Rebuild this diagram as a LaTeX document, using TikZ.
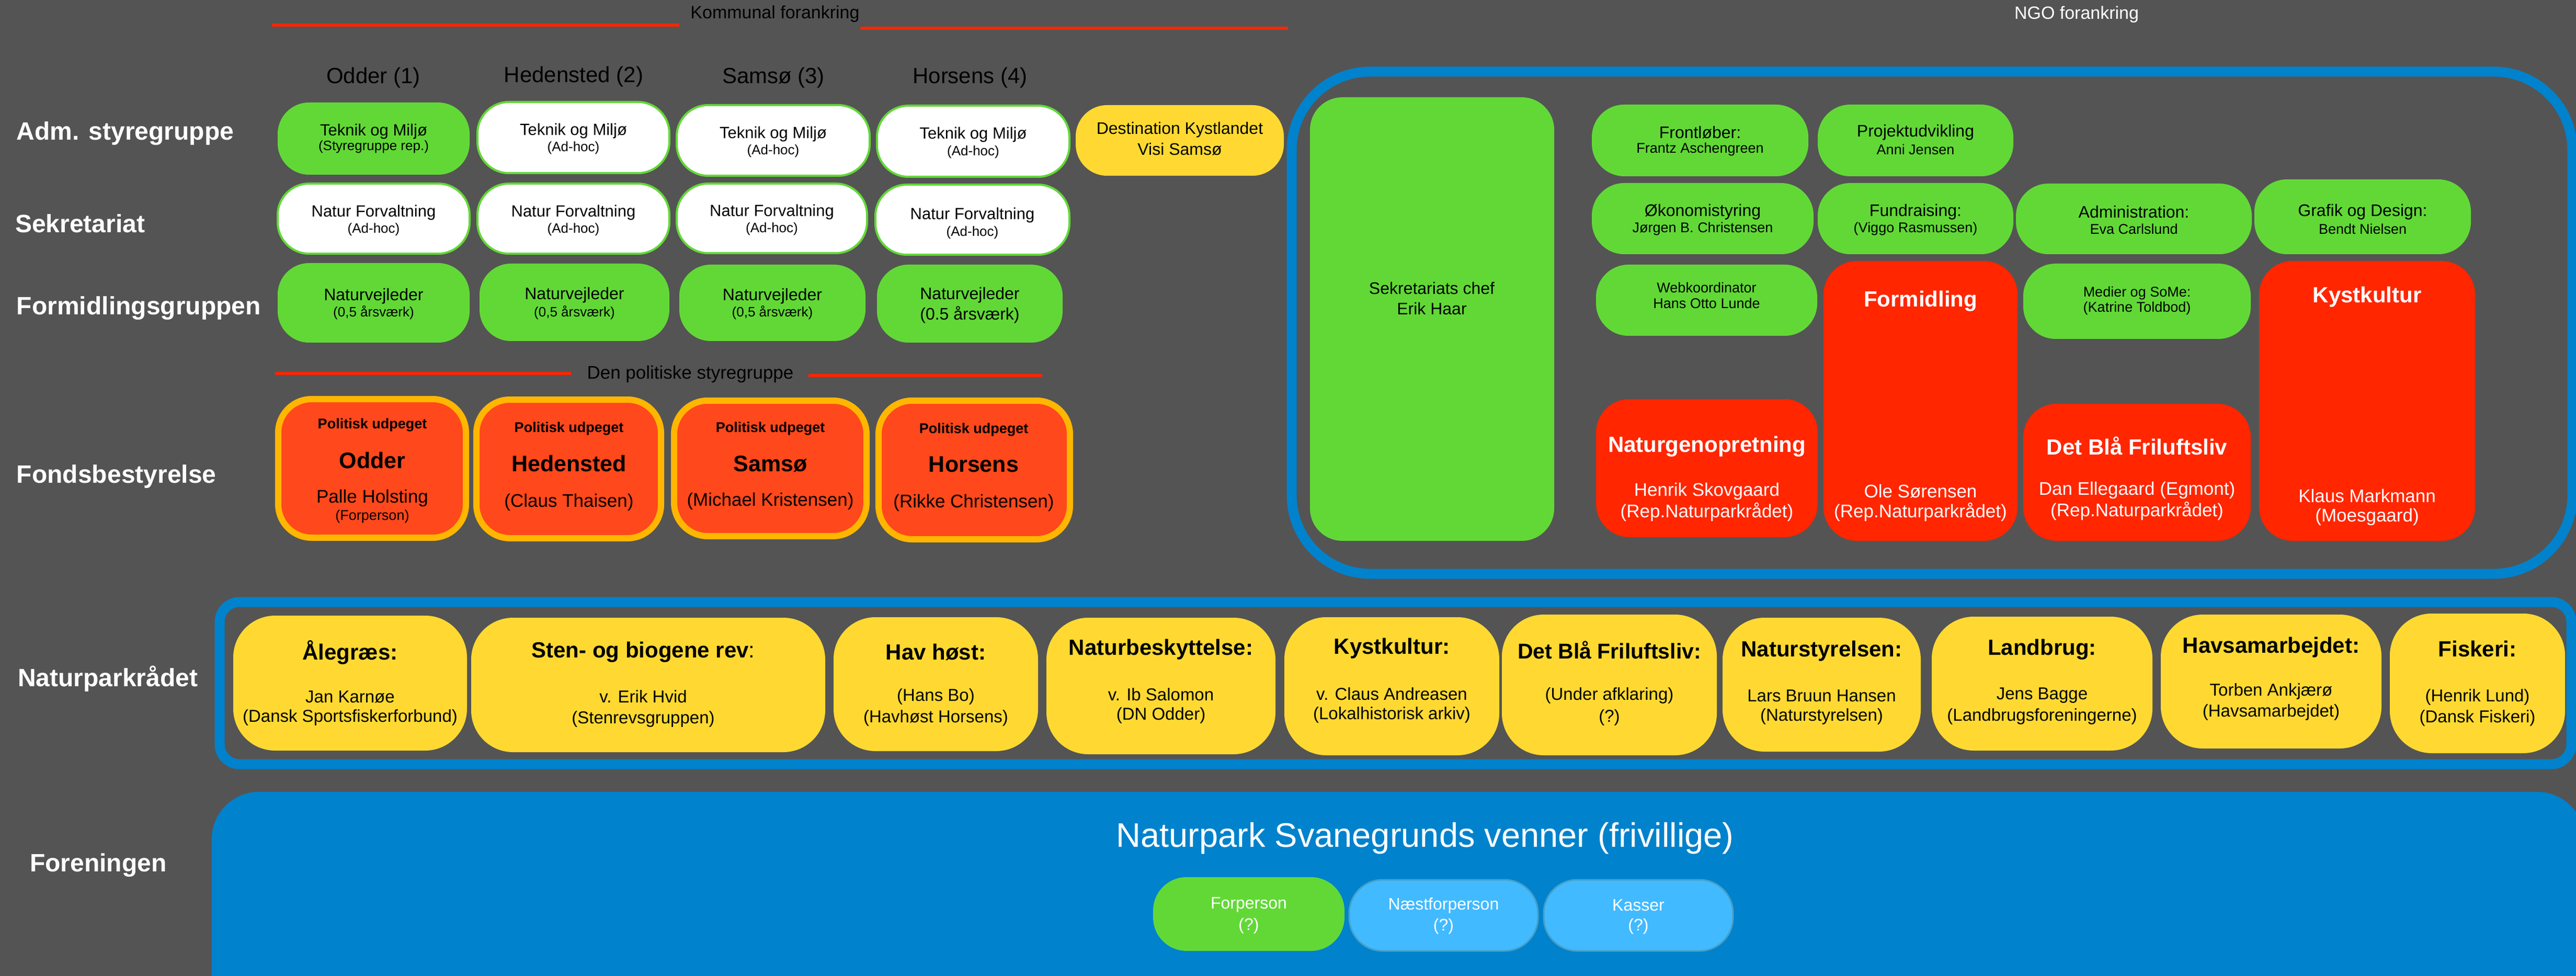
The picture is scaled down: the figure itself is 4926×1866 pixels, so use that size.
\documentclass[tikz,border=0pt]{standalone}
\usepackage{fontspec}
\setmainfont{Liberation Sans}
\definecolor{bg}{RGB}{84,84,84}
\definecolor{cgreen}{RGB}{98,216,55}
\definecolor{cyellow}{RGB}{255,217,50}
\definecolor{cred}{RGB}{255,38,0}
\definecolor{corange}{RGB}{255,72,27}
\definecolor{cgold}{RGB}{255,182,0}
\definecolor{cblue}{RGB}{0,130,204}
\definecolor{clblue}{RGB}{66,186,255}
\definecolor{clbord}{RGB}{70,160,200}
\newcommand\Bx[6]{\node[#2,minimum width={(#5-#3)*0.5pt},minimum height={(#6-#4)*0.5pt}] (#1) at ({(#3+#5)/2},{(#4+#6)/2}) {};}
\newcounter{tcnt}
\newcommand\Tx[5][]{\stepcounter{tcnt}\node[txt,#1] (t\thetcnt) at (#2,#3) {\fontsize{#4}{#4}\selectfont #5};}
\begin{document}
\begin{tikzpicture}[x=0.5pt,y=-0.5pt,
  box/.style={rectangle,inner sep=0pt,outer sep=0pt},
  gbox/.style={box,fill=cgreen,rounded corners=30pt},
  wbox/.style={box,fill=white,draw=cgreen,line width=2pt,rounded corners=30pt},
  dbox/.style={box,fill=cyellow,rounded corners=30pt},
  ybox/.style={box,fill=cyellow,rounded corners=40pt},
  ngbox/.style={box,fill=cgreen,rounded corners=31pt},
  rbox/.style={box,fill=cred,rounded corners=32pt},
  fbox/.style={box,fill=corange,draw=cgold,line width=6pt,rounded corners=32pt},
  lbox/.style={box,fill=clblue,draw=clbord,line width=1.5pt,rounded corners=32pt},
  fgbox/.style={box,fill=cgreen,rounded corners=32pt},
  bigframe/.style={box,draw=cblue,line width=9.5pt,rounded corners=75pt},
  npframe/.style={box,draw=cblue,line width=9.5pt,rounded corners=19pt},
  forbox/.style={box,fill=cblue,rounded corners=45pt},
  redline/.style={draw=cred,line width=3pt},
  txt/.style={inner sep=0pt,outer sep=0pt,anchor=center},
  lab/.style={anchor=west,text=white},
  wt/.style={text=white}]
\useasboundingbox (0,0) rectangle (4926,1866);
\fill[bg] (0,0) rectangle (4926,1866);
\clip (0,0) rectangle (4926,1866);

% ---- top headings
\coordinate (kl1) at (520,48); \coordinate (kl2) at (1299,48);
\coordinate (kr1) at (1645,54); \coordinate (kr2) at (2463,54);
\draw[redline] (kl1) -- (kl2);
\draw[redline] (kr1) -- (kr2);
\Tx{1482}{27}{17}{Kommunal forankring}
\Tx[wt]{3971}{28}{17}{NGO forankring}

\Tx{714}{149}{21}{Odder (1)}
\Tx{1097}{147}{21}{Hedensted (2)}
\Tx{1479}{149}{21}{Samsø (3)}
\Tx{1855}{149}{21}{Horsens (4)}

% ---- row labels
\Tx[lab]{32}{255}{24}{\bfseries Adm. styregruppe}
\Tx[lab]{29}{427}{24}{\bfseries Sekretariat}
\Tx[lab]{32}{589}{24}{\bfseries Formidlingsgruppen}
\Tx[lab]{32}{911}{24}{\bfseries Fondsbestyrelse}
\Tx[lab]{34}{1298}{24}{\bfseries Naturparkrådet}
\Tx[lab]{57}{1654}{24}{\bfseries Foreningen}

% ---- Adm. styregruppe
\Bx{A1}{gbox}{531}{196}{898}{334}
\Bx{A2}{wbox}{913}{195}{1280}{331}
\Bx{A3}{wbox}{1294}{201}{1663}{336}
\Bx{A4}{wbox}{1677}{202}{2045}{338}
\Bx{A5}{dbox}{2057}{201}{2455}{336}
\Tx{714.5}{251}{15.5}{Teknik og Miljø}
\Tx{714.5}{281}{13}{(Styregruppe rep.)}
\Tx{1096.5}{250}{15.5}{Teknik og Miljø}
\Tx{1096.5}{283}{13}{(Ad-hoc)}
\Tx{1478.5}{256}{15.5}{Teknik og Miljø}
\Tx{1478.5}{289}{13}{(Ad-hoc)}
\Tx{1861}{257}{15.5}{Teknik og Miljø}
\Tx{1861}{291}{13}{(Ad-hoc)}
\Tx{2256}{248}{16}{Destination Kystlandet}
\Tx{2256}{285}{16}{Visi Samsø}

% ---- Sekretariat
\Bx{S1}{wbox}{531}{351}{898}{485}
\Bx{S2}{wbox}{913}{351}{1280}{485}
\Bx{S3}{wbox}{1294}{351}{1658}{484}
\Bx{S4}{wbox}{1674}{353}{2045}{487}
\Tx{714.5}{406}{15.5}{Natur Forvaltning}
\Tx{714.5}{439}{13}{(Ad-hoc)}
\Tx{1096.5}{406}{15.5}{Natur Forvaltning}
\Tx{1096.5}{439}{13}{(Ad-hoc)}
\Tx{1476}{405}{15.5}{Natur Forvaltning}
\Tx{1476}{438}{13}{(Ad-hoc)}
\Tx{1859.5}{411}{15.5}{Natur Forvaltning}
\Tx{1859.5}{445}{13}{(Ad-hoc)}

% ---- Formidlingsgruppen
\Bx{F1}{gbox}{531}{503}{898}{655}
\Bx{F2}{gbox}{917}{504}{1280}{652}
\Bx{F3}{gbox}{1299}{506}{1655}{652}
\Bx{F4}{gbox}{1677}{506}{2032}{655}
\Tx{714.5}{566}{16}{Naturvejleder}
\Tx{714.5}{598}{13}{(0,5 årsværk)}
\Tx{1098.5}{564}{16}{Naturvejleder}
\Tx{1098.5}{598}{13}{(0,5 årsværk)}
\Tx{1477}{566}{16}{Naturvejleder}
\Tx{1477}{598}{13}{(0,5 årsværk)}
\Tx{1854.5}{564}{16}{Naturvejleder}
\Tx{1854.5}{602}{16}{(0.5 årsværk)}

% ---- Den politiske styregruppe
\coordinate (pl1) at (526,714); \coordinate (pl2) at (1092,714);
\coordinate (pr1) at (1546,718); \coordinate (pr2) at (1993,718);
\draw[redline] (pl1) -- (pl2);
\draw[redline] (pr1) -- (pr2);
\Tx{1320}{715}{17.5}{Den politiske styregruppe}

% ---- Fondsbestyrelse
\Bx{B1}{fbox}{532}{763}{891}{1028}
\Bx{B2}{fbox}{911}{764}{1264}{1029}
\Bx{B3}{fbox}{1289}{766}{1657}{1025}
\Bx{B4}{fbox}{1680}{766}{2046}{1031}
\Tx{712}{813}{13.5}{\bfseries Politisk udpeget}
\Tx{712}{880}{21.5}{\bfseries Odder}
\Tx{712}{952}{17.5}{Palle Holsting}
\Tx{712}{988}{13.5}{(Forperson)}
\Tx{1088}{820}{13.5}{\bfseries Politisk udpeget}
\Tx{1088}{886}{21.5}{\bfseries Hedensted}
\Tx{1088}{960}{17.5}{(Claus Thaisen)}
\Tx{1473}{820}{13.5}{\bfseries Politisk udpeget}
\Tx{1473}{887}{21.5}{\bfseries Samsø}
\Tx{1473}{958}{17.5}{(Michael Kristensen)}
\Tx{1862}{822}{13.5}{\bfseries Politisk udpeget}
\Tx{1862}{888}{21.5}{\bfseries Horsens}
\Tx{1862}{961}{17.5}{(Rikke Christensen)}

% ---- NGO frame
\Bx{NGO}{bigframe}{2470}{137}{4919}{1097}
\Bx{SC}{ngbox}{2505}{186}{2972}{1034}
\Tx{2738}{551}{16}{Sekretariats chef}
\Tx{2738}{590}{16}{Erik Haar}

\Bx{G1}{ngbox}{3044}{200}{3458}{337}
\Bx{G2}{ngbox}{3476}{200}{3850}{337}
\Bx{G3}{ngbox}{3044}{350}{3468}{486}
\Bx{G4}{ngbox}{3476}{350}{3850}{486}
\Bx{G5}{ngbox}{3855}{351}{4306}{486}
\Bx{G6}{ngbox}{4311}{343}{4725}{486}
\Bx{G7}{ngbox}{3052}{506}{3475}{642}
\Bx{G8}{ngbox}{3869}{504}{4304}{648}
\Tx{3251}{253}{16}{Frontløber:}
\Tx{3251}{286}{13.5}{Frantz Aschengreen}
\Tx{3663}{253}{16}{Projektudvikling}
\Tx{3663}{286}{13.5}{Anni Jensen}
\Tx{3256}{405}{16}{Økonomistyring}
\Tx{3256}{438}{13.5}{Jørgen B. Christensen}
\Tx{3663}{405}{16}{Fundraising:}
\Tx{3663}{438}{13.5}{(Viggo Rasmussen)}
\Tx{4080.5}{405}{16}{Administration:}
\Tx{4080.5}{438}{13.5}{Eva Carlslund}
\Tx{4518}{405}{16}{Grafik og Design:}
\Tx{4518}{438}{13.5}{Bendt Nielsen}
\Tx{3263.5}{550}{13.5}{Webkoordinator}
\Tx{3263.5}{580}{13.5}{Hans Otto Lunde}
\Tx{4086.5}{561}{13.5}{Medier og SoMe:}
\Tx{4086.5}{590}{13.5}{(Katrine Toldbod)}

\Bx{R1}{rbox}{3487}{499}{3858}{1034}
\Bx{R2}{rbox}{4320}{499}{4733}{1034}
\Bx{R3}{rbox}{3052}{763}{3476}{1027}
\Bx{R4}{rbox}{3869}{772}{4304}{1034}
\Tx[wt]{3672.5}{576}{21}{\bfseries Formidling}
\Tx[wt]{3672.5}{939}{17.5}{Ole Sørensen}
\Tx[wt]{3672.5}{979}{17.5}{(Rep.Naturparkrådet)}
\Tx[wt]{4526.5}{568}{21}{\bfseries Kystkultur}
\Tx[wt]{4526.5}{948}{17.5}{Klaus Markmann}
\Tx[wt]{4526.5}{988}{17.5}{(Moesgaard)}
\Tx[wt]{3264}{854}{21}{\bfseries Naturgenopretning}
\Tx[wt]{3264}{939}{17.5}{Henrik Skovgaard}
\Tx[wt]{3264}{979}{17.5}{(Rep.Naturparkrådet)}
\Tx[wt]{4086.5}{852}{21}{\bfseries Det Blå Friluftsliv}
\Tx[wt]{4086.5}{937}{17.5}{Dan Ellegaard (Egmont)}
\Tx[wt]{4086.5}{977}{17.5}{(Rep.Naturparkrådet)}

% ---- Naturparkrådet
\Bx{NP}{npframe}{420}{1151}{4917}{1461}
\Bx{N1}{ybox}{446}{1177}{893}{1435}
\Bx{N2}{ybox}{901}{1181}{1578}{1438}
\Bx{N3}{ybox}{1594}{1180}{1985}{1436}
\Bx{N4}{ybox}{2001}{1181}{2439}{1442}
\Bx{N5}{ybox}{2456}{1180}{2867}{1444}
\Bx{N6}{ybox}{2872}{1175}{3283}{1444}
\Bx{N7}{ybox}{3294}{1181}{3673}{1437}
\Bx{N8}{ybox}{3694}{1179}{4116}{1435}
\Bx{N9}{ybox}{4132}{1175}{4554}{1431}
\Bx{N10}{ybox}{4570}{1173}{4905}{1440}
\Tx{669.5}{1247}{21}{\bfseries Ålegræs:}
\Tx{669.5}{1332}{16.5}{Jan Karnøe}
\Tx{669.5}{1372}{16.5}{(Dansk Sportsfiskerforbund)}
\Tx{1230}{1247}{21}{{\bfseries Sten- og biogene rev}:}
\Tx{1230}{1332}{16.5}{v. Erik Hvid}
\Tx{1230}{1375}{16.5}{(Stenrevsgruppen)}
\Tx{1789.5}{1247}{21}{\bfseries Hav høst:}
\Tx{1789.5}{1332}{16.5}{(Hans Bo)}
\Tx{1789.5}{1373}{16.5}{(Havhøst Horsens)}
\Tx{2220}{1242}{21}{\bfseries Naturbeskyttelse:}
\Tx{2220}{1328}{16.5}{v. Ib Salomon}
\Tx{2220}{1368}{16.5}{(DN Odder)}
\Tx{2661.5}{1240}{21}{\bfseries Kystkultur:}
\Tx{2661.5}{1327}{16.5}{v. Claus Andreasen}
\Tx{2661.5}{1367}{16.5}{(Lokalhistorisk arkiv)}
\Tx{3077.5}{1243}{20.5}{\bfseries Det Blå Friluftsliv:}
\Tx{3077.5}{1330}{16.5}{(Under afklaring)}
\Tx{3077.5}{1372}{16.5}{(?)}
\Tx{3483.5}{1245}{21}{\bfseries Naturstyrelsen:}
\Tx{3483.5}{1330}{16.5}{Lars Bruun Hansen}
\Tx{3483.5}{1370}{16.5}{(Naturstyrelsen)}
\Tx{3905}{1242}{21}{\bfseries Landbrug:}
\Tx{3905}{1330}{16.5}{Jens Bagge}
\Tx{3905}{1370}{16.5}{(Landbrugsforeningerne)}
\Tx{4343}{1238}{21}{\bfseries Havsamarbejdet:}
\Tx{4343}{1322}{16.5}{Torben Ankjærø}
\Tx{4343}{1362}{16.5}{(Havsamarbejdet)}
\Tx{4737.5}{1240}{21}{\bfseries Fiskeri:}
\Tx{4737.5}{1333}{16.5}{(Henrik Lund)}
\Tx{4737.5}{1373}{16.5}{(Dansk Fiskeri)}

% ---- Foreningen
\Bx{FOR}{forbox}{405}{1514}{4942}{1990}
\Tx[wt]{2725}{1603}{32.5}{Naturpark Svanegrunds venner (frivillige)}
\Bx{V1}{fgbox}{2205}{1677}{2571}{1818}
\Bx{V2}{lbox}{2580}{1682}{2941}{1818}
\Bx{V3}{lbox}{2952}{1682}{3314}{1818}
\Tx[wt]{2388}{1730}{16}{Forperson}
\Tx[wt]{2388}{1770}{16}{(?)}
\Tx[wt]{2760.5}{1731}{16}{Næstforperson}
\Tx[wt]{2760.5}{1771}{16}{(?)}
\Tx[wt]{3133}{1731}{16}{Kasser}
\Tx[wt]{3133}{1771}{16}{(?)}
\end{tikzpicture}
\end{document}
